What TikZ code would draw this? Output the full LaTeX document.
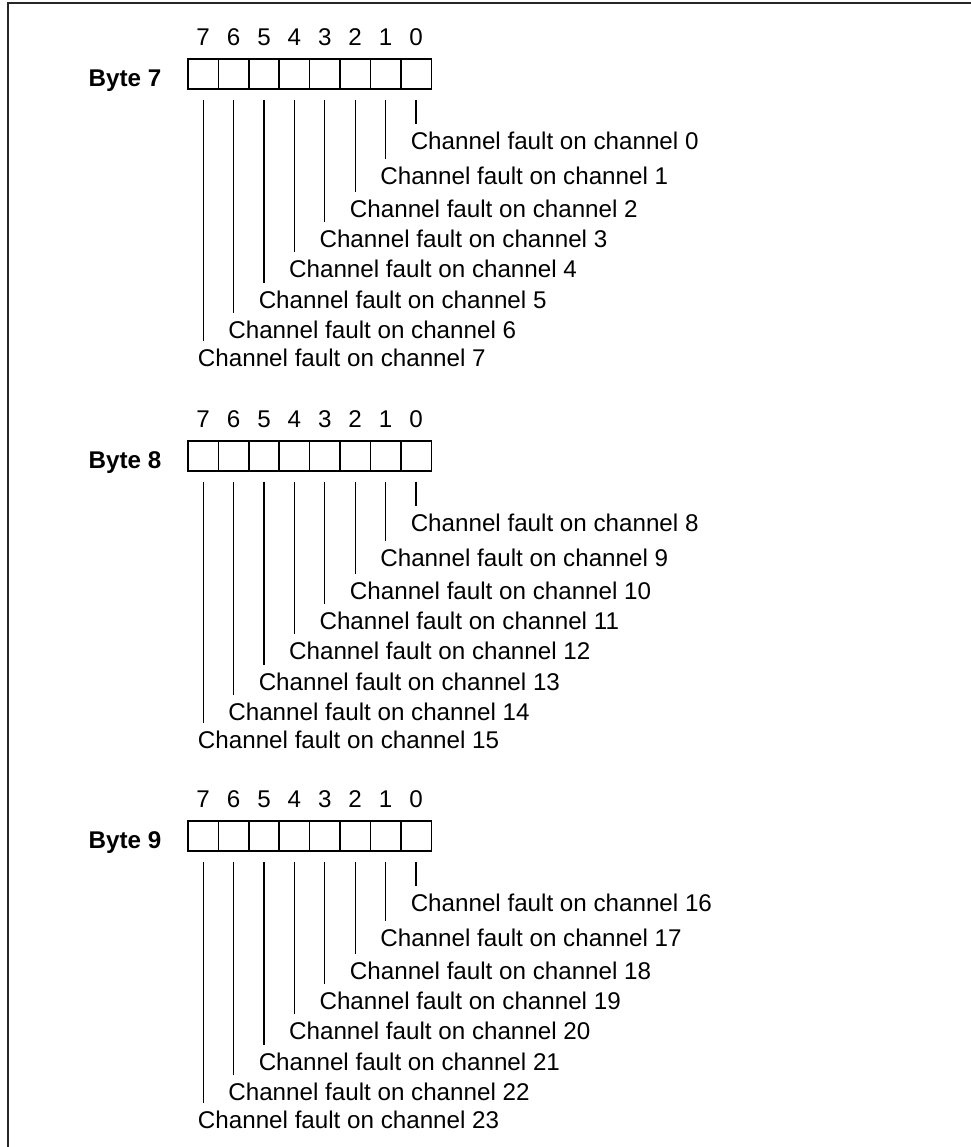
\documentclass[tikz,border=0pt]{standalone}
\usepackage{fontspec}
\setmainfont{Liberation Sans}
\usetikzlibrary{positioning,calc}

\begin{document}
\begin{tikzpicture}[x=0.025cm, y=-0.025cm, font=\fontsize{17.2}{20}\selectfont,
  bitcell/.style={draw, line width=1pt, minimum width=0.76cm, minimum height=0.75cm, inner sep=0pt},
  bitnum/.style={inner sep=0pt},
  bytelbl/.style={font=\fontsize{17.2}{20}\selectfont\bfseries, anchor=base, inner sep=0pt},
  chlbl/.style={anchor=west, inner sep=0pt},
  wire/.style={line width=0.75pt}]

\useasboundingbox (0,0) rectangle (971,1147);

% frame
\draw[line width=1.4pt, black!85] (8,1147) -- (8,3) -- (971,3);

% bytes 7, 8, 9
\foreach \byte/\yb in {7/59, 8/441, 9/821}{
  \node[bytelbl] (lbl\byte) at (125,\yb+27.5) {Byte \byte};
  \foreach \b/\ty in {0/82,1/117,2/150,3/180,4/210,5/241,6/271,7/299}{
    \pgfmathsetmacro{\cx}{203.2+(7-\b)*30.4}
    \pgfmathtruncatemacro{\chn}{(\byte-7)*8+\b}
    \node[bitcell] (c\byte b\b) at (\cx,\yb+15) {};
    \node[bitnum] (n\byte b\b) at (\cx,\yb-22) {\b};
    \node[chlbl] (t\byte b\b) at (\cx-5.5,\yb+\ty) {Channel fault on channel \chn};
    \draw[wire] ($(c\byte b\b.south)+(0,10)$) -- ($(c\byte b\b.south |- t\byte b\b.west)+(0,-17)$);
  }
}

\end{tikzpicture}
\end{document}
